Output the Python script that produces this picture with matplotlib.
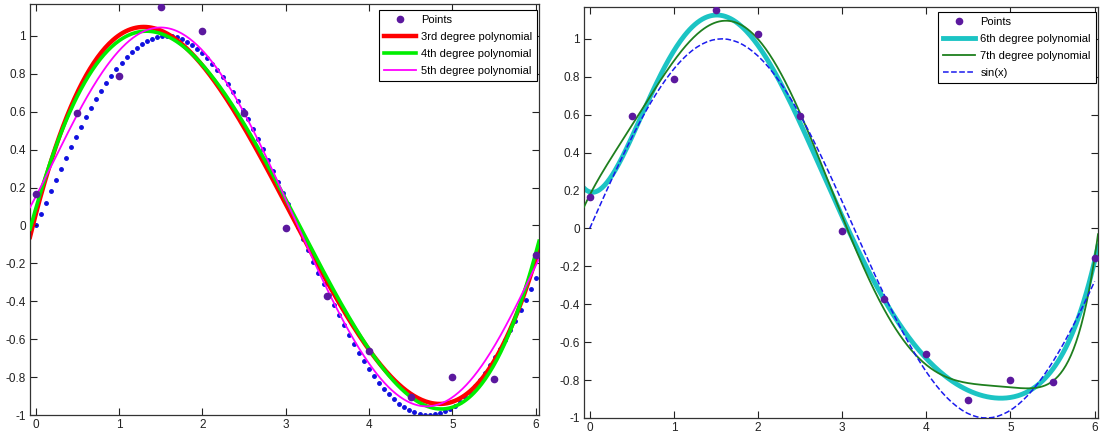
import numpy as np
import matplotlib
matplotlib.use("Agg")
import matplotlib.pyplot as plt
from matplotlib.ticker import FormatStrFormatter

plt.rcParams['font.family'] = ['Liberation Sans', 'DejaVu Sans']

# noisy sample points
x_pts = [0, 0.5, 1, 1.5, 2, 2.5, 3, 3.5, 4, 4.5, 5, 5.5, 6]
y_pts = [0.167, 0.592, 0.787, 1.151, 1.026, 0.592, -0.013, -0.374, -0.661,
         -0.905, -0.800, -0.810, -0.155]

left_degrees = [3, 4, 5]
left_labels = ['3rd degree polynomial', '4th degree polynomial', '5th degree polynomial']
right_degrees = [6, 7]
right_labels = ['6th degree polynomial', '7th degree polynomial']

x_lim = (-0.068, 6.04)
y_lim = (-1.0, 1.168)
y_ticks = [-1, -0.8, -0.6, -0.4, -0.2, 0, 0.2, 0.4, 0.6, 0.8, 1]
x_ticks = [0, 1, 2, 3, 4, 5, 6]

pt_color = '#5b189e'

xs = np.linspace(x_lim[0], x_lim[1], 400)
x_sin = np.linspace(0, 6, 100)


def fit(deg):
    p = np.polyfit(x_pts, y_pts, deg)
    return np.polyval(p, xs)


def style_axes(ax):
    ax.set_xlim(*x_lim)
    ax.set_ylim(*y_lim)
    ax.set_xticks(x_ticks)
    ax.set_yticks(y_ticks)
    ax.yaxis.set_major_formatter(FormatStrFormatter('%g'))
    ax.tick_params(direction='in', top=True, right=True, length=5,
                   labelsize=8.5, colors='#222222', pad=3)
    for s in ax.spines.values():
        s.set_color('#333333')
        s.set_linewidth(0.9)


def add_legend(ax, anchor):
    leg = ax.legend(loc='upper right', bbox_to_anchor=anchor, borderaxespad=0,
                    fontsize=8, fancybox=False, framealpha=1, edgecolor='black',
                    handlelength=2.9, labelspacing=0.62, handletextpad=0.45,
                    borderpad=0.45)
    leg.get_frame().set_linewidth(0.8)
    return leg


fig = plt.figure(figsize=(11.05, 4.34), dpi=100)
ax1 = fig.add_axes([30 / 1105, 1 - 415 / 434, 509 / 1105, 411 / 434])
ax2 = fig.add_axes([584 / 1105, 1 - 418 / 434, 514 / 1105, 411 / 434])

# left panel
ax1.plot(x_sin, np.sin(x_sin), '.', color='#1010e0', markersize=5, zorder=1)
ax1.plot(x_pts, y_pts, '.', color=pt_color, markersize=9, label='Points', zorder=5)
ax1.plot(xs, fit(3), color='#ff0000', lw=3.2, label=left_labels[0], zorder=2)
ax1.plot(xs, fit(4), color='#00ee00', lw=2.6, label=left_labels[1], zorder=3)
ax1.plot(xs, fit(5), color='#ff00ff', lw=1.3, label=left_labels[2], zorder=4)
style_axes(ax1)
add_legend(ax1, (0.996, 0.985))

# right panel
ax2.plot(x_pts, y_pts, '.', color=pt_color, markersize=9, label='Points', zorder=5)
ax2.plot(xs, fit(6), color='#1cc4c4', lw=3.5, label=right_labels[0], zorder=2)
ax2.plot(xs, fit(7), color='#1e7f1e', lw=1.3, label=right_labels[1], zorder=3)
ax2.plot(x_sin, np.sin(x_sin), '--', color='#1a1aee', lw=1.1, label='sin(x)', zorder=4)
style_axes(ax2)
add_legend(ax2, (0.996, 0.988))

fig.savefig('out.png', dpi=100)
